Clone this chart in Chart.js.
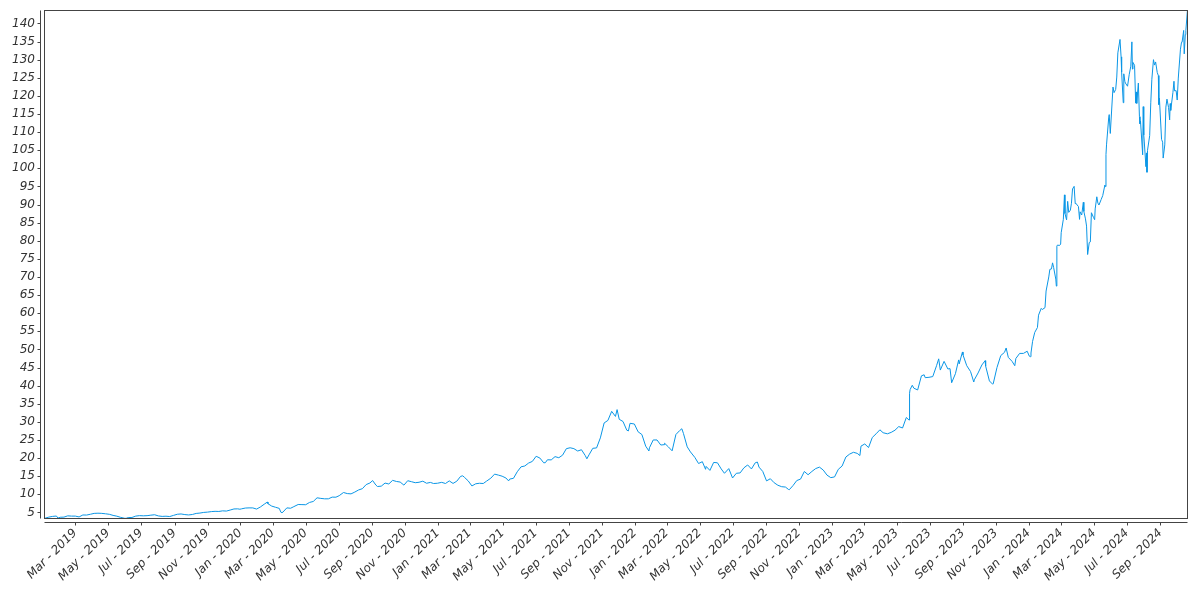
<!DOCTYPE html>
<html><head><meta charset="utf-8">
<script src="https://cdn.jsdelivr.net/npm/chart.js@4.4.1/dist/chart.umd.min.js"></script>
<style>html,body{margin:0;padding:0;background:#fff;overflow:hidden}</style>
</head><body>
<canvas id="c" width="1200" height="600"></canvas>
<script>
// Closing prices, [MM-DD, value] per year
const prices2019 = [["01-02",3.41],["01-03",3.18],["01-04",3.41],["01-11",3.70],["01-18",3.90],["01-25",4.00],["01-28",3.43],["02-01",3.66],["02-08",3.70],["02-15",4.05],["02-22",3.98],["03-01",3.98],["03-08",3.75],["03-15",4.29],["03-22",4.27],["03-29",4.49],["04-05",4.73],["04-12",4.78],["04-18",4.75],["04-26",4.62],["05-03",4.48],["05-10",4.18],["05-17",3.96],["05-24",3.63],["05-31",3.39],["06-03",3.35],["06-07",3.58],["06-14",3.60],["06-21",3.98],["06-28",4.11],["07-05",4.06],["07-12",4.10],["07-19",4.24],["07-26",4.35],["08-02",4.03],["08-09",3.90],["08-16",3.95],["08-23",3.86],["08-30",4.18],["09-06",4.49],["09-13",4.57],["09-20",4.40],["09-27",4.30],["10-04",4.43],["10-11",4.72],["10-18",4.82],["10-25",5.00],["11-01",5.08],["11-08",5.22],["11-15",5.30],["11-22",5.26],["11-29",5.43],["12-06",5.37],["12-13",5.65],["12-20",5.95],["12-27",5.98],["12-31",5.88]];
const prices2020 = [["01-03",5.98],["01-10",6.20],["01-17",6.25],["01-24",6.24],["01-31",5.92],["02-07",6.50],["02-14",7.25],["02-20",7.87],["02-21",7.40],["02-28",6.74],["03-06",6.42],["03-13",6.11],["03-16",5.05],["03-18",4.90],["03-20",5.12],["03-27",6.25],["04-03",6.15],["04-09",6.60],["04-17",7.18],["04-24",7.15],["05-01",7.12],["05-08",7.75],["05-15",8.02],["05-22",9.03],["05-29",8.87],["06-05",8.75],["06-12",8.75],["06-19",9.22],["06-26",9.20],["07-02",9.62],["07-10",10.50],["07-17",10.20],["07-24",10.12],["07-31",10.62],["08-07",11.20],["08-14",11.55],["08-21",12.68],["08-28",13.12],["09-02",13.80],["09-08",12.55],["09-11",12.15],["09-18",12.25],["09-25",13.10],["10-02",12.85],["10-09",13.85],["10-16",13.55],["10-23",13.38],["10-30",12.53],["11-06",13.75],["11-13",13.48],["11-20",13.20],["11-27",13.32],["12-04",13.62],["12-11",13.05],["12-18",13.28],["12-24",12.98],["12-31",13.05]];
const prices2021 = [["01-08",13.30],["01-15",12.98],["01-22",13.70],["01-29",13.00],["02-05",13.62],["02-12",14.95],["02-16",15.10],["02-19",14.70],["02-26",13.72],["03-05",12.30],["03-12",12.90],["03-19",13.05],["03-26",12.98],["04-01",13.62],["04-09",14.45],["04-16",15.57],["04-23",15.30],["04-30",15.00],["05-07",14.50],["05-12",13.70],["05-14",14.20],["05-21",14.42],["05-28",16.22],["06-04",17.58],["06-11",17.82],["06-18",18.62],["06-25",19.08],["07-02",20.50],["07-09",20.00],["07-16",18.70],["07-19",18.72],["07-23",19.53],["07-30",19.50],["08-06",20.40],["08-13",20.10],["08-20",20.80],["08-27",22.60],["09-03",22.85],["09-10",22.60],["09-17",21.95],["09-24",22.30],["10-01",20.70],["10-04",19.80],["10-08",20.90],["10-15",22.70],["10-22",22.80],["10-29",25.57],["11-05",29.70],["11-12",30.40],["11-19",32.90],["11-26",31.50],["11-29",33.38],["12-03",30.70],["12-10",30.10],["12-17",27.70],["12-20",27.50],["12-23",29.60],["12-31",29.41]];
const prices2022 = [["01-07",27.25],["01-14",26.50],["01-21",23.30],["01-27",21.95],["01-28",22.85],["02-04",25.00],["02-11",25.00],["02-18",23.60],["02-24",23.70],["02-25",24.10],["03-04",23.10],["03-11",22.00],["03-18",26.50],["03-25",27.60],["03-29",28.10],["04-01",26.80],["04-08",23.10],["04-14",21.70],["04-22",20.20],["04-29",18.50],["05-06",19.00],["05-12",16.90],["05-13",17.70],["05-20",16.60],["05-27",18.80],["06-03",18.70],["06-10",17.00],["06-16",15.80],["06-24",17.10],["07-01",14.50],["07-08",15.80],["07-15",15.90],["07-22",17.30],["07-29",18.10],["08-05",17.00],["08-12",18.70],["08-16",18.90],["08-19",17.50],["08-26",16.30],["09-02",13.70],["09-09",14.30],["09-16",13.20],["09-23",12.50],["09-30",12.10],["10-07",12.00],["10-13",11.30],["10-14",11.25],["10-21",12.40],["10-28",13.80],["11-04",14.20],["11-11",16.30],["11-18",15.40],["11-25",16.30],["12-02",17.10],["12-09",17.50],["12-16",16.70],["12-23",15.30],["12-30",14.60]];
const prices2023 = [["01-06",14.80],["01-13",16.90],["01-20",17.80],["01-27",20.30],["02-03",21.10],["02-10",21.60],["02-17",21.30],["02-22",20.70],["02-24",23.30],["03-03",23.90],["03-10",22.90],["03-17",25.70],["03-24",26.70],["03-31",27.80],["04-06",27.00],["04-14",26.70],["04-21",27.10],["04-28",27.70],["05-05",28.70],["05-12",28.30],["05-19",31.20],["05-24",30.50],["05-25",37.90],["05-26",38.90],["05-30",40.10],["06-02",39.30],["06-09",38.80],["06-16",42.70],["06-21",43.00],["06-23",42.20],["06-30",42.30],["07-07",42.50],["07-14",45.50],["07-18",47.40],["07-21",44.30],["07-28",46.70],["08-04",44.60],["08-08",44.70],["08-11",40.80],["08-18",43.30],["08-24",47.10],["08-25",46.00],["08-31",49.30],["09-01",48.50],["09-08",45.50],["09-15",43.90],["09-21",41.00],["09-22",41.60],["09-29",43.50],["10-06",45.70],["10-12",46.90],["10-13",45.40],["10-20",41.30],["10-26",40.40],["10-27",40.50],["11-03",45.00],["11-10",48.30],["11-17",49.20],["11-20",50.40],["11-24",47.80],["12-01",46.70],["12-06",45.50],["12-08",47.50],["12-15",48.90],["12-22",48.90],["12-29",49.50]];
const prices2024 = [["01-02",48.12],["01-04",48.00],["01-05",49.01],["01-08",52.23],["01-12",54.70],["01-17",56.05],["01-19",59.45],["01-24",61.33],["01-26",61.02],["01-31",61.53],["02-02",66.12],["02-07",70.01],["02-09",72.10],["02-12",72.23],["02-14",73.90],["02-16",72.61],["02-20",69.42],["02-21",67.48],["02-22",78.51],["02-23",78.80],["02-27",78.70],["02-29",79.09],["03-01",82.23],["03-05",85.94],["03-07",92.67],["03-08",87.51],["03-11",85.76],["03-13",90.88],["03-15",87.84],["03-18",88.45],["03-20",90.36],["03-22",94.29],["03-25",95.02],["03-27",90.25],["03-28",90.36],["04-02",89.44],["04-04",85.90],["04-05",88.00],["04-08",87.11],["04-11",90.62],["04-12",88.10],["04-15",86.04],["04-17",84.04],["04-19",76.20],["04-22",79.51],["04-24",79.68],["04-26",87.74],["04-30",86.40],["05-02",85.82],["05-03",88.79],["05-06",92.14],["05-08",90.41],["05-10",89.87],["05-14",91.36],["05-17",92.48],["05-21",95.39],["05-22",94.95],["05-23",103.80],["05-24",106.47],["05-28",113.90],["05-29",114.83],["05-31",109.63],["06-05",122.44],["06-07",120.89],["06-10",121.79],["06-12",125.20],["06-14",131.88],["06-18",135.58],["06-20",130.78],["06-21",126.57],["06-24",118.11],["06-25",126.09],["06-27",123.99],["06-28",123.54],["07-02",122.67],["07-05",125.83],["07-08",128.20],["07-10",134.91],["07-11",127.40],["07-12",129.24],["07-15",128.44],["07-17",117.99],["07-18",121.09],["07-19",117.93],["07-22",123.54],["07-24",114.25],["07-25",112.28],["07-26",113.06],["07-30",103.73],["07-31",117.02],["08-01",109.21],["08-02",107.27],["08-05",100.45],["08-06",104.25],["08-07",98.91],["08-08",104.97],["08-12",109.02],["08-14",118.08],["08-16",124.58],["08-19",130.00],["08-21",128.50],["08-23",129.37],["08-26",126.46],["08-28",125.61],["08-29",117.59],["08-30",119.37],["09-03",108.00],["09-05",107.21],["09-06",102.83],["09-09",106.47],["09-11",116.91],["09-13",119.10],["09-16",116.78],["09-18",113.37],["09-19",117.87],["09-20",116.00],["09-24",120.87],["09-26",124.04],["09-27",121.40],["09-30",121.44],["10-02",118.85],["10-04",124.92],["10-08",132.89],["10-10",134.81],["10-11",134.80],["10-14",138.07],["10-15",131.60],["10-17",136.93],["10-18",138.00],["10-21",143.71],["10-22",143.59]];

const tickDates = ["2019-03-01","2019-05-01","2019-07-01","2019-09-01","2019-11-01",
  "2020-01-01","2020-03-01","2020-05-01","2020-07-01","2020-09-01","2020-11-01",
  "2021-01-01","2021-03-01","2021-05-01","2021-07-01","2021-09-01","2021-11-01",
  "2022-01-01","2022-03-01","2022-05-01","2022-07-01","2022-09-01","2022-11-01",
  "2023-01-01","2023-03-01","2023-05-01","2023-07-01","2023-09-01","2023-11-01",
  "2024-01-01","2024-03-01","2024-05-01","2024-07-01","2024-09-01"];
const tickLabels = ["Mar - 2019","May - 2019","Jul - 2019","Sep - 2019","Nov - 2019",
  "Jan - 2020","Mar - 2020","May - 2020","Jul - 2020","Sep - 2020","Nov - 2020",
  "Jan - 2021","Mar - 2021","May - 2021","Jul - 2021","Sep - 2021","Nov - 2021",
  "Jan - 2022","Mar - 2022","May - 2022","Jul - 2022","Sep - 2022","Nov - 2022",
  "Jan - 2023","Mar - 2023","May - 2023","Jul - 2023","Sep - 2023","Nov - 2023",
  "Jan - 2024","Mar - 2024","May - 2024","Jul - 2024","Sep - 2024"];
const yTicks = [5,10,15,20,25,30,35,40,45,50,55,60,65,70,75,80,85,90,95,100,105,110,115,120,125,130,135,140];

const years = {2019:prices2019,2020:prices2020,2021:prices2021,2022:prices2022,2023:prices2023,2024:prices2024};
const DAY = 86400000, T0 = Date.UTC(2019,0,1);
const dayOf = s => (Date.parse(s + "T00:00:00Z") - T0) / DAY;
const points = [];
Object.keys(years).forEach(y => years[y].forEach(([md, v]) => points.push({x: dayOf(y + "-" + md), y: v})));
const labelByDay = {};
tickDates.forEach((d, i) => labelByDay[dayOf(d)] = tickLabels[i]);
const vals = points.map(p => p.y);

const font = {family: "DejaVu Sans", size: 12, style: "italic"};
const AX = "#444";

const frame = {
  id: "frame",
  afterDraw(chart) {
    const {ctx, chartArea: a, scales: {x, y}} = chart;
    ctx.save();
    ctx.strokeStyle = AX; ctx.lineWidth = 1;
    const L = Math.round(a.left) + 0.5, R = Math.round(a.right) - 0.5,
          T = Math.round(a.top) + 0.5, B = Math.round(a.bottom) - 0.5;
    ctx.strokeRect(L, T, R - L, B - T);
    const yx = L - 4, xy = B + 4;
    ctx.beginPath();
    ctx.moveTo(yx, T); ctx.lineTo(yx, B);
    ctx.moveTo(L, xy); ctx.lineTo(R, xy);
    y.ticks.forEach(t => { const p = Math.round(y.getPixelForValue(t.value)) + 0.5; ctx.moveTo(yx - 3, p); ctx.lineTo(yx, p); });
    x.ticks.forEach(t => { const p = Math.round(x.getPixelForValue(t.value)) + 0.5; ctx.moveTo(p, xy); ctx.lineTo(p, xy + 3); });
    ctx.stroke();
    ctx.restore();
  }
};

new Chart(document.getElementById("c"), {
  type: "line",
  data: {datasets: [{data: points, borderColor: "#0a96e6", borderWidth: 1, pointRadius: 0, tension: 0, fill: false}]},
  options: {
    responsive: false, animation: false,
    layout: {padding: {top: 10, right: 12, left: 0, bottom: 0}},
    plugins: {legend: {display: false}, tooltip: {enabled: false}},
    scales: {
      x: {
        type: "linear", min: points[0].x, max: points[points.length - 1].x,
        afterBuildTicks: s => { s.ticks = tickDates.map(d => ({value: dayOf(d)})); },
        afterFit: s => { s.height = 81; s.paddingLeft = 0; s.paddingRight = 0; },
        grid: {display: false, drawTicks: false}, border: {display: false},
        ticks: {autoSkip: false, minRotation: 45, maxRotation: 45, padding: 7, font, color: "#333",
          callback: v => labelByDay[v] || ""}
      },
      y: {
        min: Math.min(...vals), max: Math.max(...vals),
        afterBuildTicks: s => { s.ticks = yTicks.map(v => ({value: v})); },
        afterFit: s => { s.width = 44; s.paddingTop = 0; s.paddingBottom = 0; },
        grid: {display: false, drawTicks: false}, border: {display: false},
        ticks: {autoSkip: false, padding: 9, font, color: "#333", callback: v => String(v)}
      }
    }
  },
  plugins: [frame]
});
</script>
</body></html>
